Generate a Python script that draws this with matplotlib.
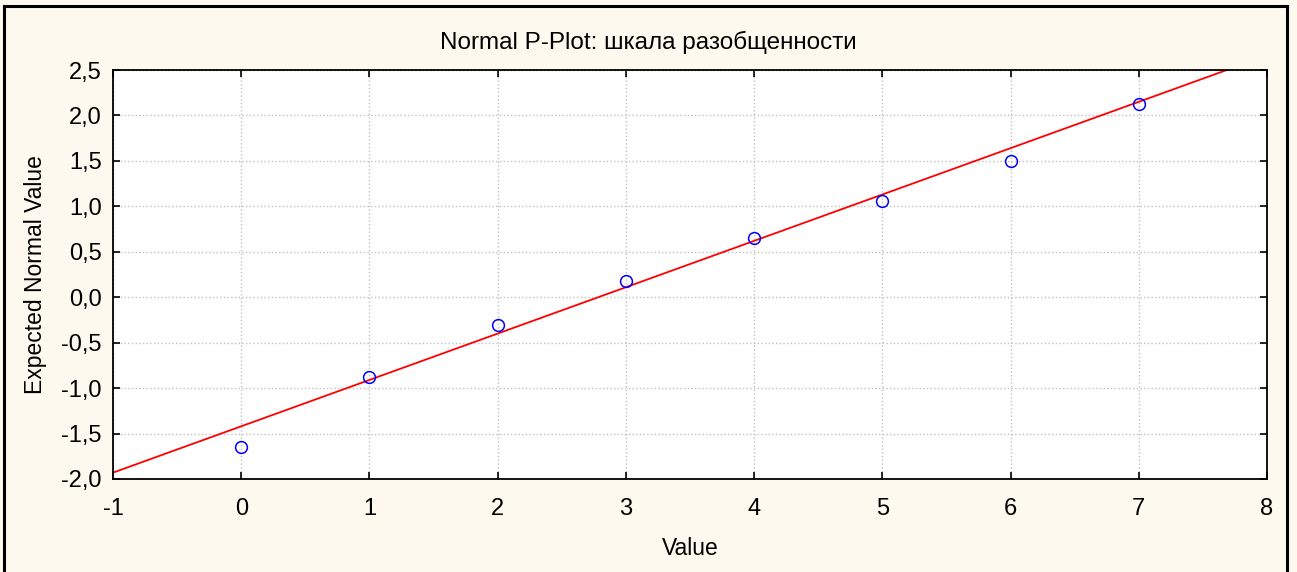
import matplotlib.pyplot as plt
from matplotlib.ticker import FuncFormatter, MultipleLocator
from matplotlib.lines import Line2D

plt.rcParams['font.family'] = ['Liberation Sans', 'DejaVu Sans']
plt.rcParams['axes.unicode_minus'] = False

# observed values and their expected normal scores
values = [0, 1, 2, 3, 4, 5, 6, 7]
expected = [-1.65, -0.88, -0.31, 0.18, 0.65, 1.06, 1.50, 2.13]

# fitted reference line
line_x = [-1, 8]
intercept = -1.42
slope = 0.51

title = 'Normal P-Plot: шкала разобщенности'


def comma(v, pos):
    return '{:.1f}'.format(v).replace('.', ',')


fig = plt.figure(figsize=(12.97, 5.72), dpi=100, facecolor='#fef9ee')
ax = fig.add_axes([113 / 1297, 1 - 479 / 572, (1267 - 113) / 1297, (479 - 70) / 572])
ax.set_facecolor('white')

ax.plot(line_x, [intercept + slope * x for x in line_x], color='red', lw=1.3, zorder=2)
ax.plot(values, expected, 'o', mfc='none', mec='blue', ms=8.5, mew=1.1, zorder=3)

ax.set_xlim(-1, 8)
ax.set_ylim(-2.0, 2.5)
ax.xaxis.set_major_locator(MultipleLocator(1))
ax.yaxis.set_major_locator(MultipleLocator(0.5))
ax.yaxis.set_major_formatter(FuncFormatter(comma))
ax.grid(True, color='#c0c0c0', ls=':', lw=1)
ax.set_axisbelow(True)
ax.tick_params(direction='in', length=5, width=1.2, labelsize=17, top=True, right=True)
ax.tick_params(axis='x', pad=14)
ax.tick_params(axis='y', pad=8)
for s in ax.spines.values():
    s.set_linewidth(1.3)

ax.set_xlabel('Value', fontsize=16.5, labelpad=12)
ax.set_ylabel('Expected Normal Value', fontsize=16.5, labelpad=10)
fig.text(0.5, 1 - 42 / 572, title, fontsize=17.5, ha='center', va='center')

# outer frame
for xs, ys in [([4, 4], [572, 6]), ([4, 1287], [6, 6]), ([1287, 1287], [6, 572])]:
    fig.add_artist(Line2D([x / 1297 for x in xs], [1 - y / 572 for y in ys],
                          color='black', lw=2.2, transform=fig.transFigure))

fig.savefig('out.png', dpi=100, facecolor=fig.get_facecolor())
